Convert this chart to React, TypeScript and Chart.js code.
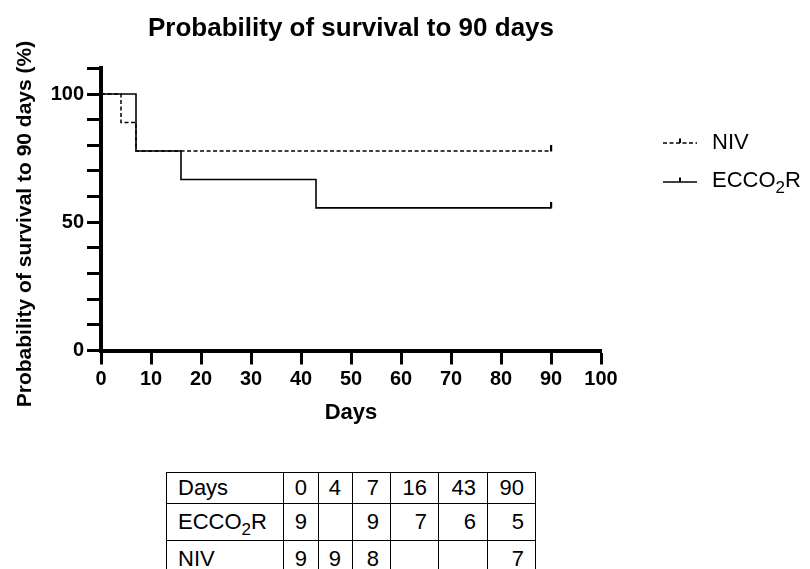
import React, { useEffect, useRef } from 'react';
import { Chart, registerables } from 'chart.js';

Chart.register(...registerables);

// ---- data ----
const ecco2rDays = [0, 7, 16, 43, 90];
const ecco2rSurvival = [100, 77.8, 66.7, 55.6, 55.6];
const nivDays = [0, 4, 7, 90];
const nivSurvival = [100, 88.9, 77.8, 77.8];
const yLabelledTicks = [0, 50, 100];
const tableDays = [0, 4, 7, 16, 43, 90];
const ecco2rAtRisk: (number | null)[] = [9, null, 9, 7, 6, 5];
const nivAtRisk: (number | null)[] = [9, 9, 8, null, null, 7];

const FONT = "'Liberation Sans', Arial, Helvetica, sans-serif";

function makeCensorMark(): HTMLCanvasElement {
  const c = document.createElement('canvas');
  c.width = 4;
  c.height = 14;
  const g = c.getContext('2d');
  if (g) {
    g.fillStyle = '#000';
    g.fillRect(1, 1, 2.2, 6.5);
  }
  return c;
}

const Sub2 = () => (
  <span style={{ fontSize: 17, lineHeight: 0, verticalAlign: -6 }}>2</span>
);

export default function App() {
  const canvasRef = useRef<HTMLCanvasElement | null>(null);

  useEffect(() => {
    const canvas = canvasRef.current;
    if (!canvas) return;
    const censor = makeCensorMark();
    const lastIdx = (n: number) => (ctx: any) => (ctx.dataIndex === n - 1 ? 3 : 0);

    const chart = new Chart(canvas, {
      type: 'line',
      data: {
        datasets: [
          {
            label: 'ECCO2R',
            data: ecco2rDays.map((d, i) => ({ x: d, y: ecco2rSurvival[i] })),
            stepped: true,
            borderColor: '#000',
            borderWidth: 1.6,
            fill: false,
            pointRadius: lastIdx(ecco2rDays.length) as any,
            pointStyle: censor as any,
          },
          {
            label: 'NIV',
            data: nivDays.map((d, i) => ({ x: d, y: nivSurvival[i] })),
            stepped: true,
            borderColor: '#000',
            borderWidth: 1.5,
            borderDash: [4, 2.5],
            fill: false,
            pointRadius: lastIdx(nivDays.length) as any,
            pointStyle: censor as any,
          },
        ],
      },
      options: {
        responsive: false,
        animation: false,
        events: [],
        layout: { padding: { left: 0, right: 209, top: 0, bottom: 0 } },
        plugins: {
          legend: { display: false },
          tooltip: { enabled: false },
          title: {
            display: true,
            text: 'Probability of survival to 90 days',
            fullSize: false,
            color: '#000',
            font: { family: FONT, size: 26, weight: 'bold' },
            padding: { top: 13, bottom: 24.2 },
          },
        },
        scales: {
          x: {
            type: 'linear',
            min: 0,
            max: 100,
            afterFit: (s: any) => {
              s.height = 89.5;
            },
            border: { display: true, color: '#000', width: 4 },
            grid: {
              drawOnChartArea: false,
              drawTicks: true,
              tickLength: 14,
              tickWidth: 3,
              tickColor: '#000',
            },
            ticks: {
              stepSize: 10,
              autoSkip: false,
              maxRotation: 0,
              padding: 3,
              color: '#000',
              font: { family: FONT, size: 20, weight: 'bold' },
            },
            title: {
              display: true,
              text: 'Days',
              color: '#000',
              font: { family: FONT, size: 22, weight: 'bold' },
              padding: { top: 0, bottom: 14 },
            },
          },
          y: {
            type: 'linear',
            min: 0,
            max: 110,
            afterFit: (s: any) => {
              s.width = 101;
            },
            border: { display: true, color: '#000', width: 4 },
            grid: {
              drawOnChartArea: false,
              drawTicks: true,
              tickLength: 14,
              tickWidth: 3,
              tickColor: '#000',
            },
            ticks: {
              stepSize: 10,
              autoSkip: false,
              padding: 3,
              color: '#000',
              font: { family: FONT, size: 20, weight: 'bold' },
              callback: (v: any) => (yLabelledTicks.includes(Number(v)) ? String(v) : ''),
            },
            title: {
              display: true,
              // trailing spaces nudge the rotated title downwards, as in the original
              text: 'Probability of survival to 90 days (%)     ',
              color: '#000',
              font: { family: FONT, size: 21, weight: 'bold' },
              padding: { top: 12.4, bottom: 0 },
            },
          },
        },
      },
    });
    return () => chart.destroy();
  }, []);

  const tdBase: React.CSSProperties = {
    border: '1.5px solid #000',
    padding: '0 11px 0 0',
    textAlign: 'right',
    verticalAlign: 'middle',
    fontSize: 22,
    lineHeight: '24px',
  };
  const tdFirst: React.CSSProperties = { ...tdBase, textAlign: 'left', padding: '0 0 0 11px' };
  const colWidths = [117, 35, 34, 38, 48, 49, 48];

  return (
    <div
      style={{
        position: 'absolute',
        left: 0,
        top: 0,
        width: 810,
        height: 569,
        background: '#fff',
        overflow: 'hidden',
        fontFamily: FONT,
        color: '#000',
      }}
    >
      <canvas
        ref={canvasRef}
        width={810}
        height={440}
        style={{ position: 'absolute', left: 0, top: 0, width: 810, height: 440, display: 'block' }}
      />

      {/* legend */}
      <svg style={{ position: 'absolute', left: 662, top: 136 }} width={36} height={12}>
        <line x1={1} y1={7} x2={35} y2={7} stroke="#000" strokeWidth={1.4} strokeDasharray="4 2.5" />
        <line x1={18} y1={7} x2={18} y2={2.5} stroke="#000" strokeWidth={2} />
      </svg>
      <div style={{ position: 'absolute', left: 712, top: 129.5, fontSize: 22, lineHeight: '24px', whiteSpace: 'nowrap' }}>
        NIV
      </div>
      <svg style={{ position: 'absolute', left: 662, top: 176 }} width={36} height={12}>
        <line x1={1} y1={6} x2={35} y2={6} stroke="#000" strokeWidth={1.5} />
        <line x1={18} y1={6} x2={18} y2={1.5} stroke="#000" strokeWidth={2} />
      </svg>
      <div style={{ position: 'absolute', left: 712, top: 167.5, fontSize: 22, lineHeight: '24px', whiteSpace: 'nowrap' }}>
        ECCO<Sub2 />R
      </div>

      {/* number at risk table */}
      <table
        style={{
          position: 'absolute',
          left: 166,
          top: 472,
          borderCollapse: 'collapse',
          tableLayout: 'fixed',
          width: colWidths.reduce((a, b) => a + b, 0),
          fontFamily: FONT,
        }}
      >
        <colgroup>
          {colWidths.map((w, i) => (
            <col key={i} style={{ width: w }} />
          ))}
        </colgroup>
        <tbody>
          <tr style={{ height: 31 }}>
            <td style={tdFirst}>Days</td>
            {tableDays.map((d, i) => (
              <td key={i} style={tdBase}>{d}</td>
            ))}
          </tr>
          <tr style={{ height: 37 }}>
            <td style={tdFirst}>
              ECCO<Sub2 />R
            </td>
            {ecco2rAtRisk.map((v, i) => (
              <td key={i} style={tdBase}>{v ?? ''}</td>
            ))}
          </tr>
          <tr style={{ height: 37 }}>
            <td style={tdFirst}>NIV</td>
            {nivAtRisk.map((v, i) => (
              <td key={i} style={tdBase}>{v ?? ''}</td>
            ))}
          </tr>
        </tbody>
      </table>
    </div>
  );
}
